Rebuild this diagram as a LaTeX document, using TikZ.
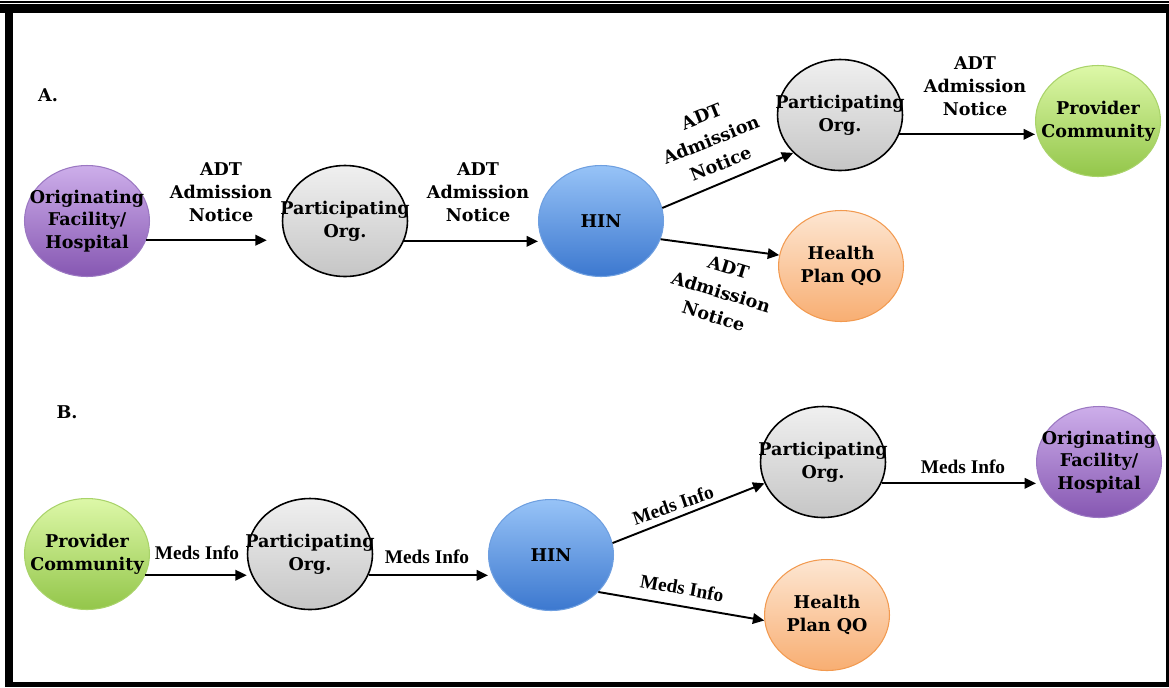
\documentclass[tikz,border=0pt]{standalone}
\usepackage{fontspec}
\setmainfont{DejaVu Serif}
\newfontfamily\medsfont{Liberation Serif}
\usetikzlibrary{shapes.geometric,arrows.meta}

\definecolor{purpletop}{HTML}{CDAEEA}
\definecolor{purplebot}{HTML}{8657B2}
\definecolor{purpleln}{HTML}{9B78C2}
\definecolor{bluetop}{HTML}{97C3F7}
\definecolor{bluebot}{HTML}{3C78CF}
\definecolor{blueln}{HTML}{6E9FE0}
\definecolor{greentop}{HTML}{DDF8A8}
\definecolor{greenbot}{HTML}{93C64A}
\definecolor{greenln}{HTML}{A9D36A}
\definecolor{orangetop}{HTML}{FDE6D2}
\definecolor{orangebot}{HTML}{F8AE72}
\definecolor{orangeln}{HTML}{F29A50}

\tikzset{
  blob/.style={ellipse, minimum width=2.5cm, minimum height=2.22cm, inner sep=0pt, line width=0.6pt},
  hospital/.style={blob, draw=purpleln, top color=purpletop, bottom color=purplebot},
  member/.style={blob, draw=black, line width=0.9pt, top color=gray!12, bottom color=gray!45},
  network/.style={blob, draw=blueln, top color=bluetop, bottom color=bluebot},
  provider/.style={blob, draw=greenln, top color=greentop, bottom color=greenbot},
  plan/.style={blob, draw=orangeln, top color=orangetop, bottom color=orangebot},
  word/.style={align=center, inner sep=0pt, font=\bfseries\fontsize{10}{13}\selectfont},
  slant/.style={word, font=\bfseries\fontsize{10}{14.5}\selectfont},
  meds/.style={inner sep=0pt, font=\medsfont\bfseries\fontsize{11}{13}\selectfont},
  arr/.style={-{Triangle[length=6.5pt,width=6pt]}, line width=1.1pt},
}

\begin{document}
\begin{tikzpicture}[x=0.02cm, y=-0.02cm]
  \useasboundingbox (0,0) rectangle (1169,687);
  % frame
  \fill (0,1) rectangle (1169,2.7);
  \fill (0,4.3) rectangle (1166,13.3);
  \fill (5,4.3) rectangle (12.7,687);
  \fill (5,682.3) rectangle (1169,687);
  \fill (1166,4.3) rectangle (1168.7,687);

  % A. admission notice
  \node[word] (capA) at (48,95) {A.};
  \node[hospital, label={[word]center:{Originating\\Facility/\\Hospital}}] (origA) at (87,221) {};
  \node[member, label={[word]center:{Participating\\Org.}}] (partA) at (345,221) {};
  \node[network, label={[word]center:HIN}] (hinA) at (601,221) {};
  \node[member, label={[word]center:{Participating\\Org.}}] (partA2) at (840,115) {};
  \node[provider, label={[word]center:{Provider\\Community}}] (provA) at (1098,121) {};
  \node[plan, label={[word]center:{Health\\Plan QO}}] (planA) at (841,266) {};

  \draw[arr, shorten >=8.5pt] (origA.-18) -- (origA.-18 -| partA.west);
  \draw[arr] (partA.-19) -- (partA.-19 -| hinA.west);
  \draw[arr] (hinA.12) -- (partA2.219);
  \draw[arr] (hinA.-17) -- (planA.170);
  \draw[arr] (partA2.-18) -- (partA2.-18 -| provA.west);

  \node[word] (tA1) at (221,192) {ADT\\Admission\\Notice};
  \node[word] (tA2) at (478,192) {ADT\\Admission\\Notice};
  \node[slant, rotate=22] (tA3) at (711,140) {ADT\\Admission\\Notice};
  \node[slant, rotate=-17] (tA4) at (721,292) {ADT\\Admission\\Notice};
  \node[word] (tA5) at (975,86) {ADT\\Admission\\Notice};

  % B. meds info
  \node[word] (capB) at (67,412) {B.};
  \node[provider, label={[word]center:{Provider\\Community}}] (provB) at (87,554) {};
  \node[member, label={[word]center:{Participating\\Org.}}] (partB) at (310,554) {};
  \node[network, label={[word]center:HIN}] (hinB) at (551,555) {};
  \node[member, label={[word]center:{Participating\\Org.}}] (partB2) at (823,462) {};
  \node[hospital, label={[word]center:{Originating\\Facility/\\Hospital}}] (origB) at (1099,462) {};
  \node[plan, label={[word]center:{Health\\Plan QO}}] (planB) at (827,615) {};

  \draw[arr] (provB.-20) -- (provB.-20 -| partB.west);
  \draw[arr] (partB.-20) -- (partB.-20 -| hinB.west);
  \draw[arr] (hinB.11) -- (partB2.200);
  \draw[arr] (hinB.-38) -- (planB.185);
  \draw[arr] (partB2.-20) -- (partB2.-20 -| origB.west);

  \node[meds] (tB1) at (197,553) {Meds Info};
  \node[meds] (tB2) at (427,557) {Meds Info};
  \node[meds, rotate=19] (tB3) at (673,505) {Meds Info};
  \node[meds, rotate=-10] (tB4) at (682,588) {Meds Info};
  \node[meds] (tB5) at (963,467) {Meds Info};
\end{tikzpicture}
\end{document}
